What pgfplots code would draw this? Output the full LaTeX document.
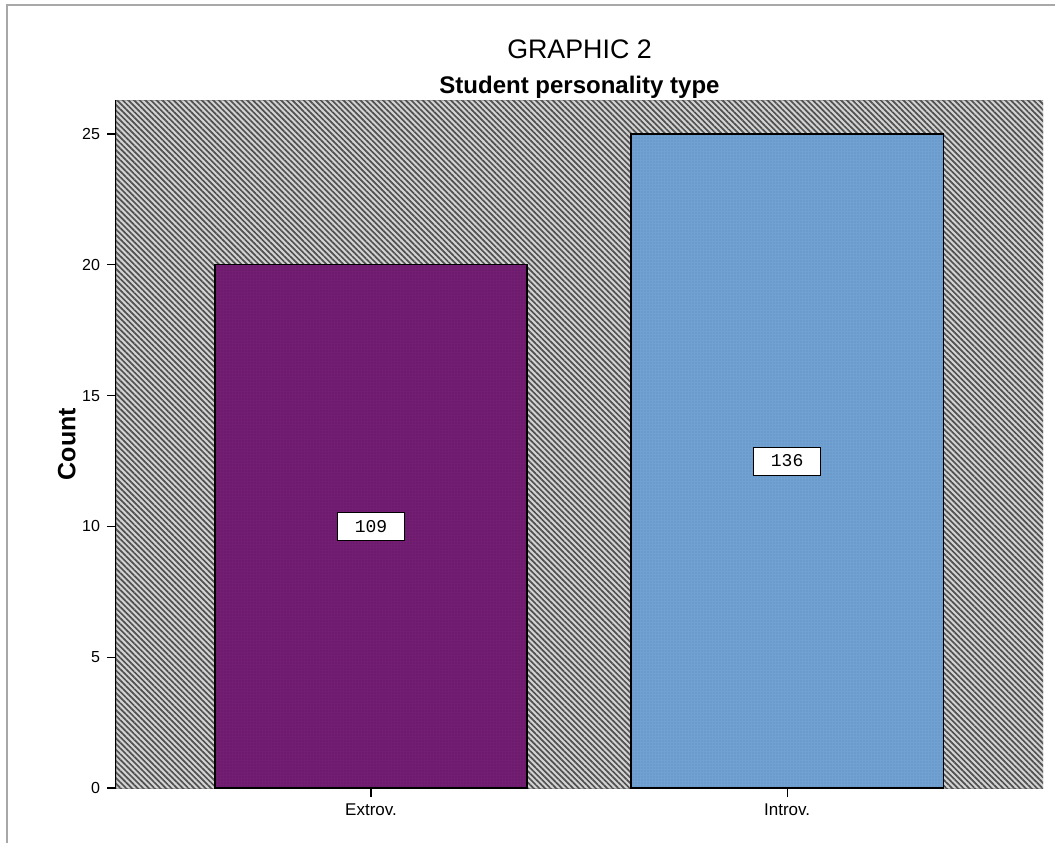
\documentclass[border=0pt]{standalone}
\usepackage{pgfplots}
\pgfplotsset{compat=1.18}
\usepackage{fontspec}
\setmainfont{Liberation Sans}
\newfontfamily\valuefont{Liberation Mono}
\usetikzlibrary{patterns.meta}

\definecolor{extrovfill}{HTML}{741E73}
\definecolor{extrovdots}{HTML}{5A1259}
\definecolor{introvfill}{HTML}{70A1D1}
\definecolor{introvdots}{HTML}{5A8BBD}
\definecolor{hatchlight}{HTML}{D4D4D4}
\definecolor{hatchdark}{HTML}{505050}
\definecolor{framegray}{HTML}{A8A8A8}

\begin{document}
\begin{tikzpicture}
\useasboundingbox (0,0) rectangle (527.5pt,421.5pt);
% outer chart frame
\draw[framegray, line width=0.75pt] (3.5pt,0) -- (3.5pt,419pt) -- (527.5pt,419pt);
\begin{axis}[
  name=ax,
  at={(58pt,27.5pt)}, anchor=south west,
  scale only axis, width=463.5pt, height=344pt,
  xmin=-0.613, xmax=1.615, ymin=0, ymax=26.3,
  xtick={0,1}, xticklabels={Extrov., Introv.},
  ytick={0,5,10,15,20,25},
  axis x line*=bottom, axis y line*=left,
  axis line style={-, black, line width=0.8pt},
  tick align=outside, major tick length=4.5pt,
  tick style={black, line width=0.6pt},
  /pgf/number format/assume math mode=true,
  yticklabel style={font=\fontsize{8}{10}\selectfont},
  xticklabel style={font=\fontsize{8.5}{10}\selectfont},
  ylabel={Count},
  ylabel style={font=\fontsize{12.5}{14}\selectfont\bfseries,
    at={(axis description cs:-0.053,0.5)}, anchor=center},
]
% hatched plot background
\fill[hatchlight, draw=framegray, line width=0.5pt,
  postaction={pattern={Lines[angle=-45, distance=2pt, line width=0.85pt]},
              pattern color=hatchdark}]
  (rel axis cs:0,0) rectangle (rel axis cs:1,1);

\addplot[ybar, bar width=0.75, bar shift=0pt, fill=extrovfill, draw=black,
  line width=0.6pt,
  postaction={pattern={Dots[radius=0.3pt, distance=1.5pt]}, pattern color=extrovdots}]
  coordinates {(0,20)};
\addplot[ybar, bar width=0.75, bar shift=0pt, fill=introvfill, draw=black,
  line width=0.6pt,
  postaction={pattern={Dots[radius=0.3pt, distance=1.5pt]}, pattern color=introvdots}]
  coordinates {(1,25)};

% count labels in the middle of each bar
\addplot[draw=none, mark=none, nodes near coords, point meta=explicit symbolic,
  nodes near coords style={anchor=center, fill=white, draw=black, line width=0.5pt,
    font=\valuefont\fontsize{9}{10}\selectfont, minimum width=33.5pt,
    minimum height=14pt, inner sep=1pt}]
  coordinates {(0,10) [109] (1,12.5) [136]};
\end{axis}
\node[anchor=base, font=\bfseries\fontsize{12}{14}\selectfont]
  at ([yshift=3.5pt]ax.north) {Student personality type};
\node[anchor=base, font=\fontsize{13.4}{15}\selectfont]
  at ([yshift=21pt]ax.north) {GRAPHIC 2};
\end{tikzpicture}
\end{document}
